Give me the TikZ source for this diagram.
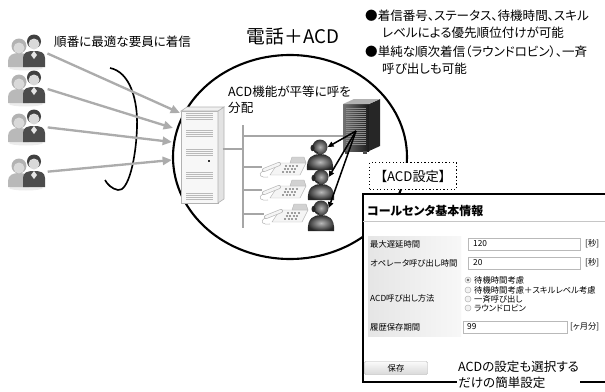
\documentclass[tikz,border=0pt]{standalone}
\usepackage{fontspec}
\setmainfont{Noto Sans CJK JP}[RawFeature=+palt]
\usetikzlibrary{arrows.meta}

\tikzset{
  flecha gris/.style={draw=gray!65, line width=2pt, shorten <=3pt, -{Triangle[length=8pt,width=7pt]}},
  flecha negra/.style={draw=black, line width=1.3pt, -{Triangle[length=5pt,width=4.5pt]}},
  rama/.style={draw=gray!70, line width=0.9pt},
  texto/.style={inner sep=0pt, anchor=west, font=\fontsize{10.7}{12}\selectfont},
  chico/.style={inner sep=0pt, anchor=west, font=\fontsize{7.1}{8}\selectfont},
  celda/.style={left color=gray!20, right color=gray!6, draw=none},
  campo/.style={draw=gray!55, fill=white, line width=0.5pt},
  radio/.style={draw=gray!60, fill=gray!10, line width=0.4pt},
  % pareja de clientes
  pareja/.pic={
    \node[minimum width=1.08cm, minimum height=0.96cm, inner sep=0pt] (-n) {};
    \fill[gray!15] (0,16) ellipse (17 and 2.5);
    \fill[gray!55] (-18,15) -- (-18,9) .. controls (-18,3) and (-13,1) .. (-7,1) .. controls (-1,1) and (3,3) .. (3,9) -- (3,15) -- cycle;
    \fill[gray!60] (-7,-6) circle (7.5);
    \fill[gray!30] (-7,-4) circle (5.5);
    \fill[black!70] (-3,15) -- (-3,6) .. controls (-3,0) and (2,-1) .. (8,-1) .. controls (14,-1) and (19,0) .. (19,6) -- (19,15) -- cycle;
    \fill[gray!20] (8,-1) -- (5,3) -- (8,7) -- (11,3) -- cycle;
    \fill[black!75] (8,-10.5) circle (7);
    \fill[gray!30] (8,-8) circle (5.5);
  },
  % operador con auricular
  operador/.pic={
    \shade[inner color=gray!55, outer color=black!85] (-13,23) .. controls (-14,10) and (-7,7) .. (0,7) .. controls (7,7) and (14,10) .. (13,23) -- cycle;
    \shade[inner color=gray!60, outer color=black!80] (0,0) circle (7.5);
    \node[circle, minimum size=0.45cm, inner sep=0pt] (-cab) {};
    \fill[black!85] (-7.5,1) ellipse (2 and 3.2);
    \draw[black!85, line width=0.7pt] (-7,3) -- (-2,6);
  },
  % telefono de sobremesa
  telefono/.pic={
    \node[minimum width=1.3cm, minimum height=0.5cm, inner sep=0pt] (-n) {};
    \filldraw[fill=gray!8, draw=gray!55, line width=0.4pt] (-14,8) -- (16,8) -- (22,-4) -- (-6,-4) -- cycle;
    \filldraw[fill=gray!35, draw=gray!60, line width=0.3pt] (6,-4) -- (8,-10) -- (20,-10) -- (22,-4) -- cycle;
    \foreach \r in {0,1,2}
      \foreach \c in {0,...,3}
        \draw[gray!75, line width=1pt] ({1+\c*3.5-\r*1.5},{-1+\r*3}) -- ++(2,0);
    \draw[gray!55, line width=3.4pt, line cap=round] (-20,3) -- (-5,-3);
    \draw[gray!8, line width=2.2pt, line cap=round] (-20,3) -- (-5,-3);
    \draw[gray!55, line width=0.5pt] (-21,4) .. controls (-27,8) and (-23,11) .. (-16,10);
  },
}

\begin{document}
\begin{tikzpicture}[x=0.03cm, y=-0.03cm]
  \useasboundingbox (0,0) rectangle (605,392);

  % Titulo y notas
  \node[font=\fontsize{16}{18}\selectfont, inner sep=0pt] (titulo) at (293,37) {電話＋ACD};
  \node[texto] (orden) at (54,42) {順番に最適な要員に着信};
  \node[texto] (nota1) at (365,16) {●着信番号、ステータス、待機時間、スキル};
  \node[texto] (nota2) at (382,33) {レベルによる優先順位付けが可能};
  \node[texto] (nota3) at (365,52) {●単純な順次着信（ラウンドロビン）、一斉};
  \node[texto] (nota4) at (382,69) {呼び出しも可能};

  % Centro de llamadas
  \draw[line width=1.8pt] (290,157) ellipse (117 and 102);
  \node[texto] (reparto1) at (228,92) {ACD機能が平等に呼を};
  \node[texto] (reparto2) at (228,108) {分配};

  % Clientes
  \pic (p1) at (26,52) {pareja};
  \pic (p2) at (26,88) {pareja};
  \pic (p3) at (26,127) {pareja};
  \pic (p4) at (26,172) {pareja};
  \draw[line width=1.4pt] (110,68) .. controls (130,72) and (138,100) .. (137,127)
    .. controls (136,160) and (128,192) .. (118,190) .. controls (112,189) and (107,184) .. (105,180);

  % Central (PBX)
  \node[minimum width=1.29cm, minimum height=2.85cm, inner sep=0pt] (pbx) at (201,155) {};
  \filldraw[fill=gray!6, draw=gray!60, line width=0.5pt] (181,111) rectangle (218,203);
  \filldraw[fill=gray!22, draw=gray!60, line width=0.5pt] (218,111) -- (224,107) -- (224,199) -- (218,203) -- cycle;
  \filldraw[fill=gray!12, draw=gray!60, line width=0.5pt] (181,111) -- (187,107) -- (224,107) -- (218,111) -- cycle;
  \foreach \g in {113,130,149,172,193}
    \foreach \k in {0,2,4,6}
      \draw[gray!55, line width=0.6pt] (186,\g+\k) -- (213,\g+\k);
  \fill[black!80] (208,160) rectangle (210,162);

  % Llamadas entrantes
  \coordinate (e1) at (180,113);
  \coordinate (e2) at (173,128);
  \coordinate (e3) at (172,142);
  \coordinate (e4) at (172,160);
  \draw[flecha gris] (p1-n.east) -- (e1);
  \draw[flecha gris] (p2-n.east) -- (e2);
  \draw[flecha gris] (p3-n.east) -- (e3);
  \draw[flecha gris] (p4-n.east) -- (e4);

  % Bus interno
  \coordinate (busTop) at (243,125);
  \coordinate (busBot) at (243,228);
  \coordinate (srvin) at (343,136);
  \draw[rama] (busTop) -- (busBot);
  \draw[rama] ([yshift=0.18cm]pbx.east) -- (busTop |- 0,149);
  \draw[rama] (busTop |- srvin) -- (srvin);

  % Telefonos
  \pic (t1) at (284,167) {telefono};
  \pic (t2) at (284,190) {telefono};
  \pic (t3) at (286,214) {telefono};
  \draw[rama] (busTop |- t1-n.west) -- (t1-n.west);
  \draw[rama] (busTop |- t2-n.west) -- (t2-n.west);
  \draw[rama] (busTop |- t3-n.west) -- (t3-n.west);

  % Servidor ACD
  \node[minimum width=1.11cm, minimum height=1.56cm, inner sep=0pt] (srv) at (361,125) {};
  \shade[left color=black!55, right color=black!90] (343,104) rectangle (369,151);
  \fill[black!85] (369,104) -- (380,99) -- (380,146) -- (369,151) -- cycle;
  \fill[gray!60] (343,104) -- (354,99) -- (380,99) -- (369,104) -- cycle;
  \foreach \k in {0,...,18}
    \draw[black!45, line width=0.3pt] (346,108+\k*2) -- (366,108+\k*2);
  \fill[black!70] (345,151) rectangle (349,154);
  \fill[black!70] (363,151) rectangle (367,154);

  % Operadores
  \pic (a1) at (320,147) {operador};
  \pic (a2) at (321,177) {operador};
  \pic (a3) at (321,208) {operador};
  \coordinate (srvport) at (356,131);
  \draw[flecha negra] (srvport) -- (a1-cab.east);
  \draw[flecha negra] (srvport) -- (a2-cab.east);
  \draw[flecha negra] (srvport) -- (a3-cab.east);

  % Ajustes ACD
  \node[draw, dotted, line width=1pt, fill=white, minimum width=2.6cm, minimum height=0.8cm,
        inner sep=0pt, font=\fontsize{11.3}{12}\selectfont] (acd) at (413,176) {【ACD設定】};

  \fill[white] (363,194) rectangle (606,382);
  \draw[line width=1.5pt] (606,194) -- (363,194) -- (363,382) -- (457,382);
  \draw[line width=1.5pt] (580,382) -- (606,382);
  \node[inner sep=0pt, anchor=west, font=\fontsize{10.2}{11}\selectfont\bfseries] (cabecera) at (367,211) {コールセンタ基本情報};
  \draw[gray!45, line width=0.6pt] (363,221) -- (606,221);

  % Filas del formulario
  \fill[celda] (368,236) rectangle (461,253);
  \fill[celda] (368,254) rectangle (461,272);
  \fill[celda] (368,273) rectangle (461,318);
  \fill[celda] (368,319) rectangle (461,336);
  \node[chico] (l1) at (370,244) {最大遅延時間};
  \node[chico] (l2) at (370,263) {オペレータ呼び出し時間};
  \node[chico] (l3) at (370,298) {ACD呼び出し方法};
  \node[chico] (l4) at (370,327) {履歴保存期間};

  \filldraw[campo] (468,238) rectangle (580,250);
  \filldraw[campo] (468,257) rectangle (580,269);
  \filldraw[campo] (463,321) rectangle (567,333);
  \node[chico] (v1) at (473,244) {120};
  \node[chico] (v2) at (473,263) {20};
  \node[chico] (v4) at (467,327) {99};
  \node[chico] (u1) at (585,244) {[秒]};
  \node[chico] (u2) at (585,263) {[秒]};
  \node[chico] (u4) at (570,327) {[ヶ月分]};

  \filldraw[radio] (468,280) circle (3);
  \fill[black!60] (468,280) circle (1.3);
  \filldraw[radio] (468,290) circle (3);
  \filldraw[radio] (468,299) circle (3);
  \filldraw[radio] (468,308) circle (3);
  \node[chico] (o1) at (474,280) {待機時間考慮};
  \node[chico] (o2) at (474,290) {待機時間考慮＋スキルレベル考慮};
  \node[chico] (o3) at (474,299) {一斉呼び出し};
  \node[chico] (o4) at (474,308) {ラウンドロビン};

  \node[draw=gray!60, top color=gray!4, bottom color=gray!30, rounded corners=1pt,
        minimum width=1.89cm, minimum height=0.39cm, inner sep=0pt,
        font=\fontsize{7.1}{8}\selectfont] (guardar) at (396,368) {保存};
  \node[texto] (pie1) at (458,367) {ACDの設定も選択する};
  \node[texto] (pie2) at (458,383) {だけの簡単設定};
\end{tikzpicture}
\end{document}
